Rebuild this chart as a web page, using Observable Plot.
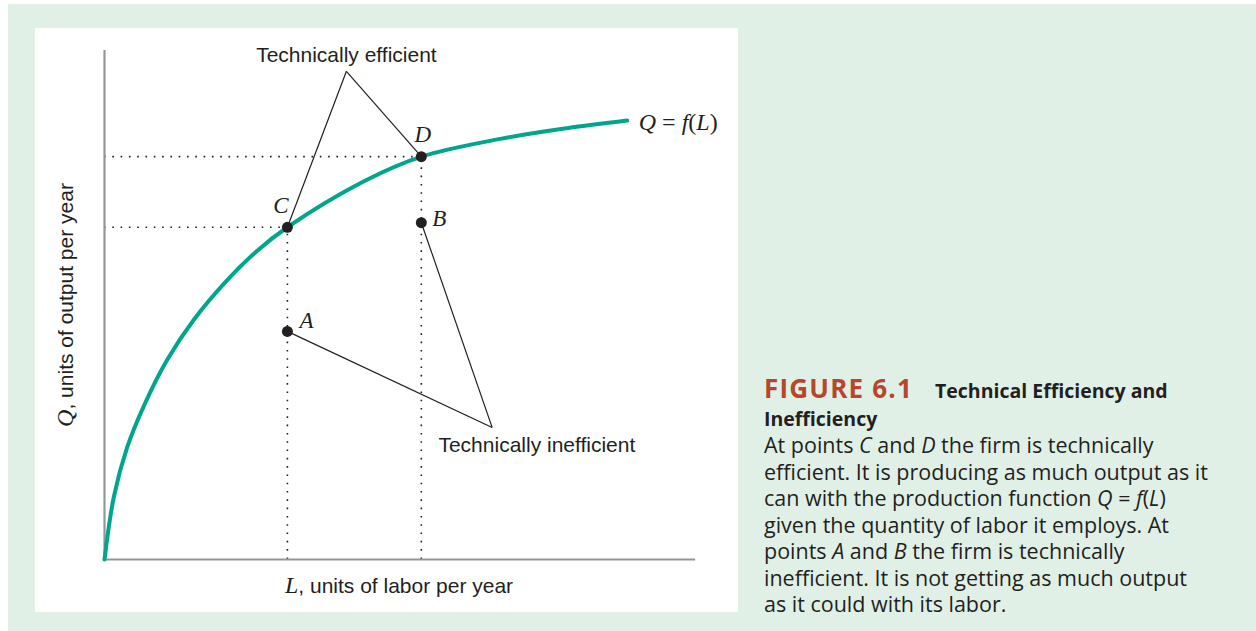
<!DOCTYPE html>
<html>
<head>
<meta charset="utf-8">
<script src="https://cdn.jsdelivr.net/npm/d3@7"></script>
<script src="https://cdn.jsdelivr.net/npm/@observablehq/plot@0.6"></script>
<style>
html, body { margin: 0; padding: 0; background: #ffffff; }
#bg { position: absolute; left: 8px; top: 4px; width: 1248px; height: 627px; background: #e1f0e7; }
#panel { position: absolute; left: 35px; top: 28px; width: 703px; height: 584px; background: #ffffff; }
#cap { position: absolute; left: 764px; top: 378px; width: 490px; font-family: "Open Sans", sans-serif; color: #231f20; line-height: 26.5px; white-space: nowrap; }
#cap .fig { font-size: 26px; font-weight: 700; color: #b5472a; letter-spacing: 1.2px; line-height: 0; margin-right: 22px; }
#cap .tt { font-size: 19.5px; font-weight: 700; }
#cap .body { font-size: 21.5px; }
</style>
</head>
<body>
<div id="bg"></div>
<div id="panel"></div>
<div id="cap">
  <div><span class="fig">FIGURE 6.1</span><span class="tt">Technical Efficiency and</span></div>
  <div class="tt">Inefficiency</div>
  <div class="body">At points <i>C</i> and <i>D</i> the firm is technically<br>efficient. It is producing as much output as it<br>can with the production function <i>Q</i> = <i>f</i>(<i>L</i>)<br>given the quantity of labor it employs. At<br>points <i>A</i> and <i>B</i> the firm is technically<br>inefficient. It is not getting as much output<br>as it could with its labor.</div>
</div>
<script>
// ---- data ----
const curveL = [0, 1.58, 3.85, 6.66, 10.63, 15.14, 20.8, 25.9, 31.0, 43.9, 53.7, 67.1, 78.4, 88.6];
const curveQ = [0, 12.3, 22.1, 30.2, 39.3, 47.2, 55.0, 60.8, 65.4, 74.4, 79.3, 82.8, 84.9, 86.4];
const pointNames = ["A", "B", "C", "D"];
const pointL = [31.0, 53.7, 31.0, 53.7];
const pointQ = [44.9, 66.3, 65.4, 79.3];
const efficientNames = ["C", "D"];
const inefficientNames = ["A", "B"];
const calloutText = ["Technically efficient", "Technically inefficient"];
const calloutL = [41.0, 65.7];
const calloutQ = [96.1, 26.0];
const axisDomainL = [0, 100];
const axisDomainQ = [0, 100];

// ---- build tables ----
const curve = curveL.map((L, i) => ({L, Q: curveQ[i]}));
const points = pointNames.map((name, i) => ({name, L: pointL[i], Q: pointQ[i]}));
const byName = Object.fromEntries(points.map(p => [p.name, p]));
const callouts = calloutText.map((text, i) => ({text, L: calloutL[i], Q: calloutQ[i]}));
const efficient = efficientNames.map(n => byName[n]);
const leaders = [
  ...efficientNames.map(n => ({a: callouts[0], p: byName[n]})),
  ...inefficientNames.map(n => ({a: callouts[1], p: byName[n]}))
];

const ink = "#231f20";
const sans = "Liberation Sans, Arial, sans-serif";
const serif = "Liberation Serif, Times New Roman, serif";
const dotted = {stroke: ink, strokeWidth: 1.6, strokeDasharray: "1.6 6.7"};

const chart = Plot.plot({
  width: 703,
  height: 584,
  marginLeft: 69,
  marginRight: 44,
  marginTop: 23,
  marginBottom: 53,
  x: {domain: axisDomainL, axis: null},
  y: {domain: axisDomainQ, axis: null},
  style: {background: "transparent", overflow: "visible"},
  marks: [
    Plot.ruleY(efficient, {y: "Q", x1: () => 0, x2: "L", ...dotted}),
    Plot.ruleX(efficient, {x: "L", y1: () => 0, y2: "Q", ...dotted}),
    Plot.ruleX([0], {stroke: "#939598", strokeWidth: 2.2, strokeLinecap: "square"}),
    Plot.ruleY([0], {stroke: "#939598", strokeWidth: 2.2, strokeLinecap: "square"}),
    Plot.line(curve, {x: "L", y: "Q", stroke: "#00a68c", strokeWidth: 4, curve: "catmull-rom"}),
    Plot.link(leaders, {x1: d => d.a.L, y1: d => d.a.Q, x2: d => d.p.L, y2: d => d.p.Q, stroke: ink, strokeWidth: 1.2}),
    Plot.dot(points, {x: "L", y: "Q", r: 5.5, fill: ink}),
    Plot.text([callouts[0]], {x: "L", y: "Q", text: "text", dy: -16.5, lineAnchor: "middle", fontSize: 21, fontFamily: sans, fill: ink}),
    Plot.text([callouts[1]], {x: "L", y: "Q", text: "text", dx: -53.7, dy: 18.3, textAnchor: "start", lineAnchor: "middle", fontSize: 21, fontFamily: sans, fill: ink}),
    Plot.text([byName.C], {x: "L", y: "Q", text: "name", dx: -6.5, dy: -22, lineAnchor: "middle", fontSize: 23, fontFamily: serif, fontStyle: "italic", fill: ink}),
    Plot.text([byName.D], {x: "L", y: "Q", text: "name", dx: 1.5, dy: -22, lineAnchor: "middle", fontSize: 23, fontFamily: serif, fontStyle: "italic", fill: ink}),
    Plot.text([byName.B], {x: "L", y: "Q", text: "name", dx: 11, dy: -4, textAnchor: "start", lineAnchor: "middle", fontSize: 23, fontFamily: serif, fontStyle: "italic", fill: ink}),
    Plot.text([byName.A], {x: "L", y: "Q", text: "name", dx: 12, dy: -11, textAnchor: "start", lineAnchor: "middle", fontSize: 23, fontFamily: serif, fontStyle: "italic", fill: ink})
  ]
});

// rich-text labels positioned with the plot's own scales
const sx = chart.scale("x"), sy = chart.scale("y");
const svg = d3.select(chart);
const end = curve[curve.length - 1];

function rich(sel, parts) {
  parts.forEach(([t, style]) => {
    const ts = sel.append("tspan").text(t);
    if (style === "i") ts.attr("font-family", serif).attr("font-style", "italic").attr("font-size", 24);
    else if (style === "r") ts.attr("font-family", serif).attr("font-size", 24);
    else ts.attr("font-family", sans).attr("font-size", 21);
  });
}

const fl = svg.append("text").attr("x", sx.apply(end.L) + 12).attr("y", sy.apply(end.Q) + 9.5).attr("text-anchor", "start").attr("fill", ink).attr("xml:space", "preserve");
rich(fl, [["Q", "i"], [" = ", "r"], ["f", "i"], ["(", "r"], ["L", "i"], [")", "r"]]);

const xl = svg.append("text").attr("x", sx.apply(50)).attr("y", sy.apply(0) + 34).attr("text-anchor", "middle").attr("fill", ink);
rich(xl, [["L", "i"], [", units of labor per year", "s"]]);

const yl = svg.append("text").attr("transform", `translate(${sx.apply(0) - 31},${sy.apply(50)}) rotate(-90)`).attr("text-anchor", "middle").attr("fill", ink);
rich(yl, [["Q", "i"], [", units of output per year", "s"]]);

document.getElementById("panel").appendChild(chart);
</script>
</body>
</html>
